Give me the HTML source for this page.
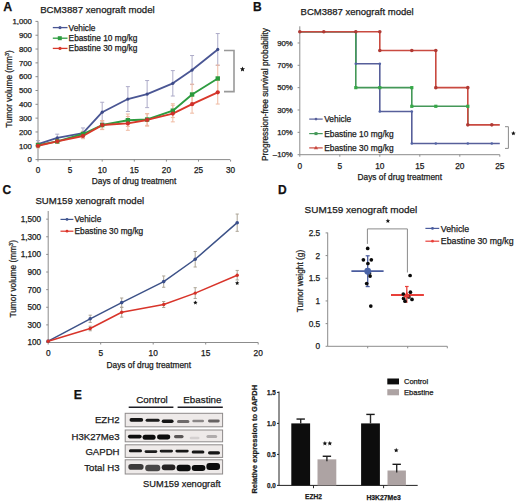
<!DOCTYPE html>
<html><head><meta charset="utf-8"><style>
html,body{margin:0;padding:0;background:#fff;}
svg{display:block;font-family:"Liberation Sans", sans-serif;}
text{stroke:#1a1a1a;stroke-width:0.25px;paint-order:stroke;}
</style></head><body>
<svg width="520" height="503" viewBox="0 0 520 503">
<defs><filter id="blur" x="-30%" y="-80%" width="160%" height="260%"><feGaussianBlur stdDeviation="0.55"/></filter></defs>
<rect width="520" height="503" fill="#fff"/>
<text x="3.30" y="10.80" font-size="12.4" text-anchor="start" font-weight="bold" fill="#111" >A</text>
<text x="40.20" y="12.90" font-size="9.65" text-anchor="start" font-weight="normal" fill="#1a1a1a" >BCM3887 xenograft model</text>
<line x1="38.00" y1="21.40" x2="38.00" y2="159.60" stroke="#8c8c8c" stroke-width="1" />
<line x1="35.50" y1="159.60" x2="38.00" y2="159.60" stroke="#8c8c8c" stroke-width="1" />
<text x="31.90" y="162.40" font-size="7.8" text-anchor="end" font-weight="normal" fill="#1a1a1a" >0</text>
<line x1="35.50" y1="145.78" x2="38.00" y2="145.78" stroke="#8c8c8c" stroke-width="1" />
<text x="31.90" y="148.58" font-size="7.8" text-anchor="end" font-weight="normal" fill="#1a1a1a" >100</text>
<line x1="35.50" y1="131.96" x2="38.00" y2="131.96" stroke="#8c8c8c" stroke-width="1" />
<text x="31.90" y="134.76" font-size="7.8" text-anchor="end" font-weight="normal" fill="#1a1a1a" >200</text>
<line x1="35.50" y1="118.14" x2="38.00" y2="118.14" stroke="#8c8c8c" stroke-width="1" />
<text x="31.90" y="120.94" font-size="7.8" text-anchor="end" font-weight="normal" fill="#1a1a1a" >300</text>
<line x1="35.50" y1="104.32" x2="38.00" y2="104.32" stroke="#8c8c8c" stroke-width="1" />
<text x="31.90" y="107.12" font-size="7.8" text-anchor="end" font-weight="normal" fill="#1a1a1a" >400</text>
<line x1="35.50" y1="90.50" x2="38.00" y2="90.50" stroke="#8c8c8c" stroke-width="1" />
<text x="31.90" y="93.30" font-size="7.8" text-anchor="end" font-weight="normal" fill="#1a1a1a" >500</text>
<line x1="35.50" y1="76.68" x2="38.00" y2="76.68" stroke="#8c8c8c" stroke-width="1" />
<text x="31.90" y="79.48" font-size="7.8" text-anchor="end" font-weight="normal" fill="#1a1a1a" >600</text>
<line x1="35.50" y1="62.86" x2="38.00" y2="62.86" stroke="#8c8c8c" stroke-width="1" />
<text x="31.90" y="65.66" font-size="7.8" text-anchor="end" font-weight="normal" fill="#1a1a1a" >700</text>
<line x1="35.50" y1="49.04" x2="38.00" y2="49.04" stroke="#8c8c8c" stroke-width="1" />
<text x="31.90" y="51.84" font-size="7.8" text-anchor="end" font-weight="normal" fill="#1a1a1a" >800</text>
<line x1="35.50" y1="35.22" x2="38.00" y2="35.22" stroke="#8c8c8c" stroke-width="1" />
<text x="31.90" y="38.02" font-size="7.8" text-anchor="end" font-weight="normal" fill="#1a1a1a" >900</text>
<line x1="35.50" y1="21.40" x2="38.00" y2="21.40" stroke="#8c8c8c" stroke-width="1" />
<text x="31.90" y="24.20" font-size="7.8" text-anchor="end" font-weight="normal" fill="#1a1a1a" >1,000</text>
<line x1="37.50" y1="159.60" x2="230.00" y2="159.60" stroke="#8c8c8c" stroke-width="1" />
<line x1="38.00" y1="159.60" x2="38.00" y2="161.60" stroke="#8c8c8c" stroke-width="1" />
<text x="38.00" y="172.50" font-size="8.2" text-anchor="middle" font-weight="normal" fill="#1a1a1a" >0</text>
<line x1="70.10" y1="159.60" x2="70.10" y2="161.60" stroke="#8c8c8c" stroke-width="1" />
<text x="70.10" y="172.50" font-size="8.2" text-anchor="middle" font-weight="normal" fill="#1a1a1a" >5</text>
<line x1="102.20" y1="159.60" x2="102.20" y2="161.60" stroke="#8c8c8c" stroke-width="1" />
<text x="102.20" y="172.50" font-size="8.2" text-anchor="middle" font-weight="normal" fill="#1a1a1a" >10</text>
<line x1="134.30" y1="159.60" x2="134.30" y2="161.60" stroke="#8c8c8c" stroke-width="1" />
<text x="134.30" y="172.50" font-size="8.2" text-anchor="middle" font-weight="normal" fill="#1a1a1a" >15</text>
<line x1="166.40" y1="159.60" x2="166.40" y2="161.60" stroke="#8c8c8c" stroke-width="1" />
<text x="166.40" y="172.50" font-size="8.2" text-anchor="middle" font-weight="normal" fill="#1a1a1a" >20</text>
<line x1="198.50" y1="159.60" x2="198.50" y2="161.60" stroke="#8c8c8c" stroke-width="1" />
<text x="198.50" y="172.50" font-size="8.2" text-anchor="middle" font-weight="normal" fill="#1a1a1a" >25</text>
<line x1="230.60" y1="159.60" x2="230.60" y2="161.60" stroke="#8c8c8c" stroke-width="1" />
<text x="230.60" y="172.50" font-size="8.2" text-anchor="middle" font-weight="normal" fill="#1a1a1a" >30</text>
<text x="134.00" y="184.20" font-size="8.3" text-anchor="middle" font-weight="normal" fill="#1a1a1a" >Days of drug treatment</text>
<text transform="translate(12.1,89) rotate(-90)" font-size="8.3" text-anchor="middle" fill="#1a1a1a">Tumor volume (mm<tspan font-size="5.5" dy="-3">3</tspan><tspan dy="3">)</tspan></text>
<line x1="38.00" y1="140.67" x2="38.00" y2="147.58" stroke="#adabc8" stroke-width="1" />
<line x1="36.00" y1="140.67" x2="40.00" y2="140.67" stroke="#adabc8" stroke-width="1" />
<line x1="36.00" y1="147.58" x2="40.00" y2="147.58" stroke="#adabc8" stroke-width="1" />
<line x1="57.26" y1="134.17" x2="57.26" y2="141.63" stroke="#adabc8" stroke-width="1" />
<line x1="55.26" y1="134.17" x2="59.26" y2="134.17" stroke="#adabc8" stroke-width="1" />
<line x1="55.26" y1="141.63" x2="59.26" y2="141.63" stroke="#adabc8" stroke-width="1" />
<line x1="82.94" y1="127.95" x2="82.94" y2="138.18" stroke="#adabc8" stroke-width="1" />
<line x1="80.94" y1="127.95" x2="84.94" y2="127.95" stroke="#adabc8" stroke-width="1" />
<line x1="80.94" y1="138.18" x2="84.94" y2="138.18" stroke="#adabc8" stroke-width="1" />
<line x1="102.20" y1="102.25" x2="102.20" y2="122.15" stroke="#adabc8" stroke-width="1" />
<line x1="100.20" y1="102.25" x2="104.20" y2="102.25" stroke="#adabc8" stroke-width="1" />
<line x1="100.20" y1="122.15" x2="104.20" y2="122.15" stroke="#adabc8" stroke-width="1" />
<line x1="127.88" y1="86.63" x2="127.88" y2="111.51" stroke="#adabc8" stroke-width="1" />
<line x1="125.88" y1="86.63" x2="129.88" y2="86.63" stroke="#adabc8" stroke-width="1" />
<line x1="125.88" y1="111.51" x2="129.88" y2="111.51" stroke="#adabc8" stroke-width="1" />
<line x1="147.14" y1="80.55" x2="147.14" y2="107.64" stroke="#adabc8" stroke-width="1" />
<line x1="145.14" y1="80.55" x2="149.14" y2="80.55" stroke="#adabc8" stroke-width="1" />
<line x1="145.14" y1="107.64" x2="149.14" y2="107.64" stroke="#adabc8" stroke-width="1" />
<line x1="172.82" y1="70.60" x2="172.82" y2="96.03" stroke="#adabc8" stroke-width="1" />
<line x1="170.82" y1="70.60" x2="174.82" y2="70.60" stroke="#adabc8" stroke-width="1" />
<line x1="170.82" y1="96.03" x2="174.82" y2="96.03" stroke="#adabc8" stroke-width="1" />
<line x1="192.08" y1="55.54" x2="192.08" y2="84.56" stroke="#adabc8" stroke-width="1" />
<line x1="190.08" y1="55.54" x2="194.08" y2="55.54" stroke="#adabc8" stroke-width="1" />
<line x1="190.08" y1="84.56" x2="194.08" y2="84.56" stroke="#adabc8" stroke-width="1" />
<line x1="217.76" y1="33.56" x2="217.76" y2="65.35" stroke="#adabc8" stroke-width="1" />
<line x1="215.76" y1="33.56" x2="219.76" y2="33.56" stroke="#adabc8" stroke-width="1" />
<line x1="215.76" y1="65.35" x2="219.76" y2="65.35" stroke="#adabc8" stroke-width="1" />
<line x1="38.00" y1="143.02" x2="38.00" y2="147.16" stroke="#efbaa2" stroke-width="1" />
<line x1="36.00" y1="143.02" x2="40.00" y2="143.02" stroke="#efbaa2" stroke-width="1" />
<line x1="36.00" y1="147.16" x2="40.00" y2="147.16" stroke="#efbaa2" stroke-width="1" />
<line x1="57.26" y1="139.28" x2="57.26" y2="143.43" stroke="#efbaa2" stroke-width="1" />
<line x1="55.26" y1="139.28" x2="59.26" y2="139.28" stroke="#efbaa2" stroke-width="1" />
<line x1="55.26" y1="143.43" x2="59.26" y2="143.43" stroke="#efbaa2" stroke-width="1" />
<line x1="82.94" y1="131.27" x2="82.94" y2="136.80" stroke="#efbaa2" stroke-width="1" />
<line x1="80.94" y1="131.27" x2="84.94" y2="131.27" stroke="#efbaa2" stroke-width="1" />
<line x1="80.94" y1="136.80" x2="84.94" y2="136.80" stroke="#efbaa2" stroke-width="1" />
<line x1="102.20" y1="120.90" x2="102.20" y2="129.20" stroke="#efbaa2" stroke-width="1" />
<line x1="100.20" y1="120.90" x2="104.20" y2="120.90" stroke="#efbaa2" stroke-width="1" />
<line x1="100.20" y1="129.20" x2="104.20" y2="129.20" stroke="#efbaa2" stroke-width="1" />
<line x1="127.88" y1="113.99" x2="127.88" y2="126.43" stroke="#efbaa2" stroke-width="1" />
<line x1="125.88" y1="113.99" x2="129.88" y2="113.99" stroke="#efbaa2" stroke-width="1" />
<line x1="125.88" y1="126.43" x2="129.88" y2="126.43" stroke="#efbaa2" stroke-width="1" />
<line x1="147.14" y1="113.72" x2="147.14" y2="125.33" stroke="#efbaa2" stroke-width="1" />
<line x1="145.14" y1="113.72" x2="149.14" y2="113.72" stroke="#efbaa2" stroke-width="1" />
<line x1="145.14" y1="125.33" x2="149.14" y2="125.33" stroke="#efbaa2" stroke-width="1" />
<line x1="172.82" y1="103.77" x2="172.82" y2="117.59" stroke="#efbaa2" stroke-width="1" />
<line x1="170.82" y1="103.77" x2="174.82" y2="103.77" stroke="#efbaa2" stroke-width="1" />
<line x1="170.82" y1="117.59" x2="174.82" y2="117.59" stroke="#efbaa2" stroke-width="1" />
<line x1="192.08" y1="84.14" x2="192.08" y2="104.87" stroke="#efbaa2" stroke-width="1" />
<line x1="190.08" y1="84.14" x2="194.08" y2="84.14" stroke="#efbaa2" stroke-width="1" />
<line x1="190.08" y1="104.87" x2="194.08" y2="104.87" stroke="#efbaa2" stroke-width="1" />
<line x1="217.76" y1="65.07" x2="217.76" y2="91.88" stroke="#efbaa2" stroke-width="1" />
<line x1="215.76" y1="65.07" x2="219.76" y2="65.07" stroke="#efbaa2" stroke-width="1" />
<line x1="215.76" y1="91.88" x2="219.76" y2="91.88" stroke="#efbaa2" stroke-width="1" />
<line x1="38.00" y1="143.71" x2="38.00" y2="147.85" stroke="#efbaa2" stroke-width="1" />
<line x1="36.00" y1="143.71" x2="40.00" y2="143.71" stroke="#efbaa2" stroke-width="1" />
<line x1="36.00" y1="147.85" x2="40.00" y2="147.85" stroke="#efbaa2" stroke-width="1" />
<line x1="57.26" y1="139.28" x2="57.26" y2="143.43" stroke="#efbaa2" stroke-width="1" />
<line x1="55.26" y1="139.28" x2="59.26" y2="139.28" stroke="#efbaa2" stroke-width="1" />
<line x1="55.26" y1="143.43" x2="59.26" y2="143.43" stroke="#efbaa2" stroke-width="1" />
<line x1="82.94" y1="133.20" x2="82.94" y2="138.73" stroke="#efbaa2" stroke-width="1" />
<line x1="80.94" y1="133.20" x2="84.94" y2="133.20" stroke="#efbaa2" stroke-width="1" />
<line x1="80.94" y1="138.73" x2="84.94" y2="138.73" stroke="#efbaa2" stroke-width="1" />
<line x1="102.20" y1="120.49" x2="102.20" y2="129.61" stroke="#efbaa2" stroke-width="1" />
<line x1="100.20" y1="120.49" x2="104.20" y2="120.49" stroke="#efbaa2" stroke-width="1" />
<line x1="100.20" y1="129.61" x2="104.20" y2="129.61" stroke="#efbaa2" stroke-width="1" />
<line x1="127.88" y1="116.48" x2="127.88" y2="130.30" stroke="#efbaa2" stroke-width="1" />
<line x1="125.88" y1="116.48" x2="129.88" y2="116.48" stroke="#efbaa2" stroke-width="1" />
<line x1="125.88" y1="130.30" x2="129.88" y2="130.30" stroke="#efbaa2" stroke-width="1" />
<line x1="147.14" y1="113.72" x2="147.14" y2="126.16" stroke="#efbaa2" stroke-width="1" />
<line x1="145.14" y1="113.72" x2="149.14" y2="113.72" stroke="#efbaa2" stroke-width="1" />
<line x1="145.14" y1="126.16" x2="149.14" y2="126.16" stroke="#efbaa2" stroke-width="1" />
<line x1="172.82" y1="105.29" x2="172.82" y2="121.87" stroke="#efbaa2" stroke-width="1" />
<line x1="170.82" y1="105.29" x2="174.82" y2="105.29" stroke="#efbaa2" stroke-width="1" />
<line x1="170.82" y1="121.87" x2="174.82" y2="121.87" stroke="#efbaa2" stroke-width="1" />
<line x1="192.08" y1="95.20" x2="192.08" y2="113.16" stroke="#efbaa2" stroke-width="1" />
<line x1="190.08" y1="95.20" x2="194.08" y2="95.20" stroke="#efbaa2" stroke-width="1" />
<line x1="190.08" y1="113.16" x2="194.08" y2="113.16" stroke="#efbaa2" stroke-width="1" />
<line x1="217.76" y1="80.55" x2="217.76" y2="104.04" stroke="#efbaa2" stroke-width="1" />
<line x1="215.76" y1="80.55" x2="219.76" y2="80.55" stroke="#efbaa2" stroke-width="1" />
<line x1="215.76" y1="104.04" x2="219.76" y2="104.04" stroke="#efbaa2" stroke-width="1" />
<polyline points="38.00,144.12 57.26,137.90 82.94,133.07 102.20,112.20 127.88,99.07 147.14,94.09 172.82,83.31 192.08,70.05 217.76,49.45" fill="none" stroke="#4a5694" stroke-width="1.8" stroke-linejoin="round" />
<polyline points="38.00,145.09 57.26,141.36 82.94,134.03 102.20,125.05 127.88,120.21 147.14,119.52 172.82,110.68 192.08,94.51 217.76,78.48" fill="none" stroke="#2e9c40" stroke-width="1.9" stroke-linejoin="round" />
<polyline points="38.00,145.78 57.26,141.36 82.94,135.97 102.20,125.05 127.88,123.39 147.14,119.94 172.82,113.58 192.08,104.18 217.76,92.30" fill="none" stroke="#d8382a" stroke-width="1.9" stroke-linejoin="round" />
<circle cx="38.00" cy="144.12" r="1.6" fill="#3c4a88"/>
<circle cx="57.26" cy="137.90" r="1.6" fill="#3c4a88"/>
<circle cx="82.94" cy="133.07" r="1.6" fill="#3c4a88"/>
<circle cx="102.20" cy="112.20" r="1.6" fill="#3c4a88"/>
<circle cx="127.88" cy="99.07" r="1.6" fill="#3c4a88"/>
<circle cx="147.14" cy="94.09" r="1.6" fill="#3c4a88"/>
<circle cx="172.82" cy="83.31" r="1.6" fill="#3c4a88"/>
<circle cx="192.08" cy="70.05" r="1.6" fill="#3c4a88"/>
<circle cx="217.76" cy="49.45" r="1.6" fill="#3c4a88"/>
<rect x="35.80" y="142.89" width="4.4" height="4.4" fill="#2a9a3c"/>
<rect x="55.06" y="139.16" width="4.4" height="4.4" fill="#2a9a3c"/>
<rect x="80.74" y="131.83" width="4.4" height="4.4" fill="#2a9a3c"/>
<rect x="100.00" y="122.85" width="4.4" height="4.4" fill="#2a9a3c"/>
<rect x="125.68" y="118.01" width="4.4" height="4.4" fill="#2a9a3c"/>
<rect x="144.94" y="117.32" width="4.4" height="4.4" fill="#2a9a3c"/>
<rect x="170.62" y="108.48" width="4.4" height="4.4" fill="#2a9a3c"/>
<rect x="189.88" y="92.31" width="4.4" height="4.4" fill="#2a9a3c"/>
<rect x="215.56" y="76.28" width="4.4" height="4.4" fill="#2a9a3c"/>
<circle cx="38.00" cy="145.78" r="2.1" fill="#d0302a"/>
<circle cx="57.26" cy="141.36" r="2.1" fill="#d0302a"/>
<circle cx="82.94" cy="135.97" r="2.1" fill="#d0302a"/>
<circle cx="102.20" cy="125.05" r="2.1" fill="#d0302a"/>
<circle cx="127.88" cy="123.39" r="2.1" fill="#d0302a"/>
<circle cx="147.14" cy="119.94" r="2.1" fill="#d0302a"/>
<circle cx="172.82" cy="113.58" r="2.1" fill="#d0302a"/>
<circle cx="192.08" cy="104.18" r="2.1" fill="#d0302a"/>
<circle cx="217.76" cy="92.30" r="2.1" fill="#d0302a"/>
<line x1="52.80" y1="27.60" x2="67.50" y2="27.60" stroke="#4a5694" stroke-width="1.3" />
<circle cx="60" cy="27.60" r="1.6" fill="#4a5694"/>
<text x="68.60" y="30.50" font-size="8.3" text-anchor="start" font-weight="normal" fill="#1a1a1a" >Vehicle</text>
<line x1="52.80" y1="38.20" x2="67.50" y2="38.20" stroke="#2e9c40" stroke-width="1.3" />
<rect x="57.8" y="36.20" width="4" height="4" fill="#2e9c40"/>
<text x="68.60" y="41.10" font-size="8.3" text-anchor="start" font-weight="normal" fill="#1a1a1a" >Ebastine 10 mg/kg</text>
<line x1="52.80" y1="48.40" x2="67.50" y2="48.40" stroke="#d8382a" stroke-width="1.3" />
<circle cx="60" cy="48.40" r="1.6" fill="#d8382a"/>
<text x="68.60" y="51.30" font-size="8.3" text-anchor="start" font-weight="normal" fill="#1a1a1a" >Ebastine 30 mg/kg</text>
<polyline points="224,50.5 234,50.5 234,91.6 224,91.6" fill="none" stroke="#999" stroke-width="1.6"/>
<polygon points="242.50,66.50 243.21,68.22 245.07,68.37 243.66,69.58 244.09,71.38 242.50,70.42 240.91,71.38 241.34,69.58 239.93,68.37 241.79,68.22" fill="#111"/>
<text x="253.00" y="10.80" font-size="12" text-anchor="start" font-weight="bold" fill="#111" >B</text>
<text x="300.60" y="15.30" font-size="9.5" text-anchor="start" font-weight="normal" fill="#1a1a1a" >BCM3887 xenograft model</text>
<line x1="299.80" y1="26.30" x2="299.80" y2="154.70" stroke="#8c8c8c" stroke-width="1" />
<line x1="297.60" y1="154.67" x2="299.80" y2="154.67" stroke="#8c8c8c" stroke-width="1" />
<text x="292.80" y="157.47" font-size="7.8" text-anchor="end" font-weight="normal" fill="#1a1a1a" >&#8211;10%</text>
<line x1="297.60" y1="132.33" x2="299.80" y2="132.33" stroke="#8c8c8c" stroke-width="1" />
<text x="292.80" y="135.13" font-size="7.8" text-anchor="end" font-weight="normal" fill="#1a1a1a" >10%</text>
<line x1="297.60" y1="109.99" x2="299.80" y2="109.99" stroke="#8c8c8c" stroke-width="1" />
<text x="292.80" y="112.79" font-size="7.8" text-anchor="end" font-weight="normal" fill="#1a1a1a" >30%</text>
<line x1="297.60" y1="87.65" x2="299.80" y2="87.65" stroke="#8c8c8c" stroke-width="1" />
<text x="292.80" y="90.45" font-size="7.8" text-anchor="end" font-weight="normal" fill="#1a1a1a" >50%</text>
<line x1="297.60" y1="65.31" x2="299.80" y2="65.31" stroke="#8c8c8c" stroke-width="1" />
<text x="292.80" y="68.11" font-size="7.8" text-anchor="end" font-weight="normal" fill="#1a1a1a" >70%</text>
<line x1="297.60" y1="42.97" x2="299.80" y2="42.97" stroke="#8c8c8c" stroke-width="1" />
<text x="292.80" y="45.77" font-size="7.8" text-anchor="end" font-weight="normal" fill="#1a1a1a" >90%</text>
<line x1="299.80" y1="154.70" x2="499.80" y2="154.70" stroke="#8c8c8c" stroke-width="1" />
<line x1="299.80" y1="154.70" x2="299.80" y2="156.70" stroke="#8c8c8c" stroke-width="1" />
<text x="299.80" y="168.60" font-size="8.3" text-anchor="middle" font-weight="normal" fill="#1a1a1a" >0</text>
<line x1="339.80" y1="154.70" x2="339.80" y2="156.70" stroke="#8c8c8c" stroke-width="1" />
<text x="339.80" y="168.60" font-size="8.3" text-anchor="middle" font-weight="normal" fill="#1a1a1a" >5</text>
<line x1="379.80" y1="154.70" x2="379.80" y2="156.70" stroke="#8c8c8c" stroke-width="1" />
<text x="379.80" y="168.60" font-size="8.3" text-anchor="middle" font-weight="normal" fill="#1a1a1a" >10</text>
<line x1="419.80" y1="154.70" x2="419.80" y2="156.70" stroke="#8c8c8c" stroke-width="1" />
<text x="419.80" y="168.60" font-size="8.3" text-anchor="middle" font-weight="normal" fill="#1a1a1a" >15</text>
<line x1="459.80" y1="154.70" x2="459.80" y2="156.70" stroke="#8c8c8c" stroke-width="1" />
<text x="459.80" y="168.60" font-size="8.3" text-anchor="middle" font-weight="normal" fill="#1a1a1a" >20</text>
<line x1="499.80" y1="154.70" x2="499.80" y2="156.70" stroke="#8c8c8c" stroke-width="1" />
<text x="499.80" y="168.60" font-size="8.3" text-anchor="middle" font-weight="normal" fill="#1a1a1a" >25</text>
<text x="399.80" y="179.60" font-size="8.3" text-anchor="middle" font-weight="normal" fill="#1a1a1a" >Days of drug treatment</text>
<text transform="translate(267.6,94.5) rotate(-90)" font-size="8.4" text-anchor="middle" fill="#1a1a1a">Progression-free survival probability</text>
<polyline points="299.80,31.80 355.80,31.80 355.80,63.75 379.80,63.75 379.80,111.55 411.80,111.55 411.80,143.50 499.80,143.50 499.80,143.50" fill="none" stroke="#575f9a" stroke-width="1.6" stroke-linejoin="round" />
<polyline points="299.80,31.80 355.80,31.80 355.80,87.65 411.80,87.65 411.80,106.30 467.80,106.30 467.80,124.85" fill="none" stroke="#449858" stroke-width="1.6" stroke-linejoin="round" />
<polyline points="299.80,31.80 379.80,31.80 379.80,50.45 435.80,50.45 435.80,87.65 467.80,87.65 467.80,124.85 499.80,124.85 499.80,124.85" fill="none" stroke="#c94a40" stroke-width="1.6" stroke-linejoin="round" />
<circle cx="355.80" cy="31.80" r="1.3" fill="#5262a4"/>
<circle cx="355.80" cy="63.75" r="1.3" fill="#5262a4"/>
<circle cx="379.80" cy="63.75" r="1.3" fill="#5262a4"/>
<circle cx="379.80" cy="111.55" r="1.3" fill="#5262a4"/>
<circle cx="411.80" cy="111.55" r="1.3" fill="#5262a4"/>
<circle cx="411.80" cy="143.50" r="1.3" fill="#5262a4"/>
<circle cx="435.80" cy="143.50" r="1.3" fill="#5262a4"/>
<circle cx="467.80" cy="143.50" r="1.3" fill="#5262a4"/>
<circle cx="491.80" cy="143.50" r="1.3" fill="#5262a4"/>
<rect x="354.20" y="86.05" width="3.2" height="3.2" fill="#36a848"/>
<rect x="378.20" y="86.05" width="3.2" height="3.2" fill="#36a848"/>
<rect x="410.20" y="86.05" width="3.2" height="3.2" fill="#36a848"/>
<rect x="410.20" y="104.70" width="3.2" height="3.2" fill="#36a848"/>
<rect x="434.20" y="104.70" width="3.2" height="3.2" fill="#36a848"/>
<rect x="466.20" y="104.70" width="3.2" height="3.2" fill="#36a848"/>
<circle cx="299.80" cy="31.80" r="1.8" fill="#b03a34"/>
<circle cx="323.80" cy="31.80" r="1.8" fill="#b03a34"/>
<circle cx="355.80" cy="31.80" r="1.8" fill="#b03a34"/>
<circle cx="379.80" cy="31.80" r="1.8" fill="#b03a34"/>
<circle cx="379.80" cy="50.45" r="1.8" fill="#b03a34"/>
<circle cx="411.80" cy="50.45" r="1.8" fill="#b03a34"/>
<circle cx="435.80" cy="50.45" r="1.8" fill="#b03a34"/>
<circle cx="435.80" cy="87.65" r="1.8" fill="#b03a34"/>
<circle cx="467.80" cy="87.65" r="1.8" fill="#b03a34"/>
<circle cx="467.80" cy="124.85" r="1.8" fill="#b03a34"/>
<circle cx="491.80" cy="124.85" r="1.8" fill="#b03a34"/>
<line x1="309.20" y1="119.10" x2="322.70" y2="119.10" stroke="#575f9a" stroke-width="1.2" />
<circle cx="316" cy="119.10" r="1.3" fill="#575f9a"/>
<text x="324.20" y="122.10" font-size="8.4" text-anchor="start" font-weight="normal" fill="#1a1a1a" >Vehicle</text>
<line x1="309.20" y1="133.60" x2="322.70" y2="133.60" stroke="#449858" stroke-width="1.2" />
<rect x="314.5" y="132.10" width="3" height="3" fill="#449858"/>
<text x="324.20" y="136.60" font-size="8.4" text-anchor="start" font-weight="normal" fill="#1a1a1a" >Ebastine 10 mg/kg</text>
<line x1="309.20" y1="147.90" x2="322.70" y2="147.90" stroke="#c94a40" stroke-width="1.2" />
<path d="M316,145.70 L318.2,149.30 L313.8,149.30 Z" fill="#c94a40"/>
<text x="324.20" y="150.90" font-size="8.4" text-anchor="start" font-weight="normal" fill="#1a1a1a" >Ebastine 30 mg/kg</text>
<polyline points="505,126.7 508.4,126.7 508.4,148.4 505,148.4" fill="none" stroke="#8a8a8a" stroke-width="1"/>
<polygon points="513.40,131.00 514.03,132.53 515.68,132.66 514.43,133.73 514.81,135.34 513.40,134.48 511.99,135.34 512.37,133.73 511.12,132.66 512.77,132.53" fill="#111"/>
<text x="2.60" y="194.40" font-size="12" text-anchor="start" font-weight="bold" fill="#111" >C</text>
<text x="35.40" y="204.00" font-size="9.6" text-anchor="start" font-weight="normal" fill="#1a1a1a" >SUM159 xenograft model</text>
<line x1="48.20" y1="211.00" x2="48.20" y2="342.50" stroke="#8c8c8c" stroke-width="1" />
<line x1="46.20" y1="342.50" x2="48.20" y2="342.50" stroke="#8c8c8c" stroke-width="1" />
<text x="41.20" y="345.40" font-size="8.2" text-anchor="end" font-weight="normal" fill="#1a1a1a" >100</text>
<line x1="46.20" y1="324.88" x2="48.20" y2="324.88" stroke="#8c8c8c" stroke-width="1" />
<text x="41.20" y="327.78" font-size="8.2" text-anchor="end" font-weight="normal" fill="#1a1a1a" >300</text>
<line x1="46.20" y1="307.26" x2="48.20" y2="307.26" stroke="#8c8c8c" stroke-width="1" />
<text x="41.20" y="310.16" font-size="8.2" text-anchor="end" font-weight="normal" fill="#1a1a1a" >500</text>
<line x1="46.20" y1="289.64" x2="48.20" y2="289.64" stroke="#8c8c8c" stroke-width="1" />
<text x="41.20" y="292.54" font-size="8.2" text-anchor="end" font-weight="normal" fill="#1a1a1a" >700</text>
<line x1="46.20" y1="272.02" x2="48.20" y2="272.02" stroke="#8c8c8c" stroke-width="1" />
<text x="41.20" y="274.92" font-size="8.2" text-anchor="end" font-weight="normal" fill="#1a1a1a" >900</text>
<line x1="46.20" y1="254.40" x2="48.20" y2="254.40" stroke="#8c8c8c" stroke-width="1" />
<text x="41.20" y="257.30" font-size="8.2" text-anchor="end" font-weight="normal" fill="#1a1a1a" >1,100</text>
<line x1="46.20" y1="236.78" x2="48.20" y2="236.78" stroke="#8c8c8c" stroke-width="1" />
<text x="41.20" y="239.68" font-size="8.2" text-anchor="end" font-weight="normal" fill="#1a1a1a" >1,300</text>
<line x1="46.20" y1="219.16" x2="48.20" y2="219.16" stroke="#8c8c8c" stroke-width="1" />
<text x="41.20" y="222.06" font-size="8.2" text-anchor="end" font-weight="normal" fill="#1a1a1a" >1,500</text>
<line x1="48.20" y1="342.50" x2="258.20" y2="342.50" stroke="#8c8c8c" stroke-width="1" />
<line x1="48.20" y1="342.50" x2="48.20" y2="344.50" stroke="#8c8c8c" stroke-width="1" />
<text x="48.20" y="356.20" font-size="8.3" text-anchor="middle" font-weight="normal" fill="#1a1a1a" >0</text>
<line x1="100.70" y1="342.50" x2="100.70" y2="344.50" stroke="#8c8c8c" stroke-width="1" />
<text x="100.70" y="356.20" font-size="8.3" text-anchor="middle" font-weight="normal" fill="#1a1a1a" >5</text>
<line x1="153.20" y1="342.50" x2="153.20" y2="344.50" stroke="#8c8c8c" stroke-width="1" />
<text x="153.20" y="356.20" font-size="8.3" text-anchor="middle" font-weight="normal" fill="#1a1a1a" >10</text>
<line x1="205.70" y1="342.50" x2="205.70" y2="344.50" stroke="#8c8c8c" stroke-width="1" />
<text x="205.70" y="356.20" font-size="8.3" text-anchor="middle" font-weight="normal" fill="#1a1a1a" >15</text>
<line x1="258.20" y1="342.50" x2="258.20" y2="344.50" stroke="#8c8c8c" stroke-width="1" />
<text x="258.20" y="356.20" font-size="8.3" text-anchor="middle" font-weight="normal" fill="#1a1a1a" >20</text>
<text x="148.80" y="367.90" font-size="8.3" text-anchor="middle" font-weight="normal" fill="#1a1a1a" >Days of drug treatment</text>
<text transform="translate(15.9,278.8) rotate(-90)" font-size="8.3" text-anchor="middle" fill="#1a1a1a">Tumor volume (mm<tspan font-size="5.5" dy="-3">3</tspan><tspan dy="3">)</tspan></text>
<line x1="48.20" y1="340.30" x2="48.20" y2="342.06" stroke="#aca496" stroke-width="1" />
<line x1="46.60" y1="340.30" x2="49.80" y2="340.30" stroke="#aca496" stroke-width="1" />
<line x1="46.60" y1="342.06" x2="49.80" y2="342.06" stroke="#aca496" stroke-width="1" />
<line x1="90.20" y1="315.19" x2="90.20" y2="322.41" stroke="#aca496" stroke-width="1" />
<line x1="88.60" y1="315.19" x2="91.80" y2="315.19" stroke="#aca496" stroke-width="1" />
<line x1="88.60" y1="322.41" x2="91.80" y2="322.41" stroke="#aca496" stroke-width="1" />
<line x1="121.70" y1="298.01" x2="121.70" y2="307.17" stroke="#aca496" stroke-width="1" />
<line x1="120.10" y1="298.01" x2="123.30" y2="298.01" stroke="#aca496" stroke-width="1" />
<line x1="120.10" y1="307.17" x2="123.30" y2="307.17" stroke="#aca496" stroke-width="1" />
<line x1="163.70" y1="275.98" x2="163.70" y2="287.26" stroke="#aca496" stroke-width="1" />
<line x1="162.10" y1="275.98" x2="165.30" y2="275.98" stroke="#aca496" stroke-width="1" />
<line x1="162.10" y1="287.26" x2="165.30" y2="287.26" stroke="#aca496" stroke-width="1" />
<line x1="195.20" y1="251.49" x2="195.20" y2="267.00" stroke="#aca496" stroke-width="1" />
<line x1="193.60" y1="251.49" x2="196.80" y2="251.49" stroke="#aca496" stroke-width="1" />
<line x1="193.60" y1="267.00" x2="196.80" y2="267.00" stroke="#aca496" stroke-width="1" />
<line x1="237.20" y1="214.05" x2="237.20" y2="231.32" stroke="#aca496" stroke-width="1" />
<line x1="235.60" y1="214.05" x2="238.80" y2="214.05" stroke="#aca496" stroke-width="1" />
<line x1="235.60" y1="231.32" x2="238.80" y2="231.32" stroke="#aca496" stroke-width="1" />
<line x1="48.20" y1="340.30" x2="48.20" y2="342.06" stroke="#aca496" stroke-width="1" />
<line x1="46.60" y1="340.30" x2="49.80" y2="340.30" stroke="#aca496" stroke-width="1" />
<line x1="46.60" y1="342.06" x2="49.80" y2="342.06" stroke="#aca496" stroke-width="1" />
<line x1="90.20" y1="326.20" x2="90.20" y2="330.78" stroke="#aca496" stroke-width="1" />
<line x1="88.60" y1="326.20" x2="91.80" y2="326.20" stroke="#aca496" stroke-width="1" />
<line x1="88.60" y1="330.78" x2="91.80" y2="330.78" stroke="#aca496" stroke-width="1" />
<line x1="121.70" y1="307.44" x2="121.70" y2="317.13" stroke="#aca496" stroke-width="1" />
<line x1="120.10" y1="307.44" x2="123.30" y2="307.44" stroke="#aca496" stroke-width="1" />
<line x1="120.10" y1="317.13" x2="123.30" y2="317.13" stroke="#aca496" stroke-width="1" />
<line x1="163.70" y1="301.53" x2="163.70" y2="307.52" stroke="#aca496" stroke-width="1" />
<line x1="162.10" y1="301.53" x2="165.30" y2="301.53" stroke="#aca496" stroke-width="1" />
<line x1="162.10" y1="307.52" x2="165.30" y2="307.52" stroke="#aca496" stroke-width="1" />
<line x1="195.20" y1="287.70" x2="195.20" y2="298.45" stroke="#aca496" stroke-width="1" />
<line x1="193.60" y1="287.70" x2="196.80" y2="287.70" stroke="#aca496" stroke-width="1" />
<line x1="193.60" y1="298.45" x2="196.80" y2="298.45" stroke="#aca496" stroke-width="1" />
<line x1="237.20" y1="270.43" x2="237.20" y2="279.95" stroke="#aca496" stroke-width="1" />
<line x1="235.60" y1="270.43" x2="238.80" y2="270.43" stroke="#aca496" stroke-width="1" />
<line x1="235.60" y1="279.95" x2="238.80" y2="279.95" stroke="#aca496" stroke-width="1" />
<polyline points="48.20,341.18 90.20,318.80 121.70,302.59 163.70,281.62 195.20,259.25 237.20,222.68" fill="none" stroke="#3d5288" stroke-width="1.5" stroke-linejoin="round" />
<polyline points="48.20,341.18 90.20,328.49 121.70,312.28 163.70,304.53 195.20,293.08 237.20,275.19" fill="none" stroke="#d8342a" stroke-width="1.5" stroke-linejoin="round" />
<circle cx="48.20" cy="341.18" r="1.8" fill="#3a4f8c"/>
<circle cx="90.20" cy="318.80" r="1.8" fill="#3a4f8c"/>
<circle cx="121.70" cy="302.59" r="1.8" fill="#3a4f8c"/>
<circle cx="163.70" cy="281.62" r="1.8" fill="#3a4f8c"/>
<circle cx="195.20" cy="259.25" r="1.8" fill="#3a4f8c"/>
<circle cx="237.20" cy="222.68" r="1.8" fill="#3a4f8c"/>
<circle cx="48.20" cy="341.18" r="1.7" fill="#d43228"/>
<circle cx="90.20" cy="328.49" r="1.7" fill="#d43228"/>
<circle cx="121.70" cy="312.28" r="1.7" fill="#d43228"/>
<circle cx="163.70" cy="304.53" r="1.7" fill="#d43228"/>
<circle cx="195.20" cy="293.08" r="1.7" fill="#d43228"/>
<circle cx="237.20" cy="275.19" r="1.7" fill="#d43228"/>
<line x1="60.50" y1="219.40" x2="73.40" y2="219.40" stroke="#3f5590" stroke-width="1.2" />
<circle cx="67" cy="219.40" r="1.4" fill="#3f5590"/>
<text x="74.50" y="222.40" font-size="8.3" text-anchor="start" font-weight="normal" fill="#1a1a1a" >Vehicle</text>
<line x1="60.50" y1="231.20" x2="73.40" y2="231.20" stroke="#dc3428" stroke-width="1.2" />
<circle cx="67" cy="231.20" r="1.4" fill="#dc3428"/>
<text x="74.50" y="234.20" font-size="8.3" text-anchor="start" font-weight="normal" fill="#1a1a1a" >Ebastine 30 mg/kg</text>
<polygon points="195.40,300.40 196.01,301.86 197.59,301.99 196.38,303.02 196.75,304.56 195.40,303.74 194.05,304.56 194.42,303.02 193.21,301.99 194.79,301.86" fill="#111"/>
<polygon points="237.20,280.80 237.81,282.26 239.39,282.39 238.18,283.42 238.55,284.96 237.20,284.14 235.85,284.96 236.22,283.42 235.01,282.39 236.59,282.26" fill="#111"/>
<text x="278.00" y="194.40" font-size="12" text-anchor="start" font-weight="bold" fill="#111" >D</text>
<text x="304.60" y="213.40" font-size="9.95" text-anchor="start" font-weight="normal" fill="#1a1a1a" >SUM159 xenograft model</text>
<line x1="327.70" y1="232.60" x2="327.70" y2="346.30" stroke="#8c8c8c" stroke-width="1" />
<line x1="325.60" y1="346.30" x2="327.70" y2="346.30" stroke="#8c8c8c" stroke-width="1" />
<text x="320.20" y="349.30" font-size="8.3" text-anchor="end" font-weight="normal" fill="#1a1a1a" >0</text>
<line x1="325.60" y1="323.62" x2="327.70" y2="323.62" stroke="#8c8c8c" stroke-width="1" />
<text x="320.20" y="326.62" font-size="8.3" text-anchor="end" font-weight="normal" fill="#1a1a1a" >0.5</text>
<line x1="325.60" y1="300.94" x2="327.70" y2="300.94" stroke="#8c8c8c" stroke-width="1" />
<text x="320.20" y="303.94" font-size="8.3" text-anchor="end" font-weight="normal" fill="#1a1a1a" >1</text>
<line x1="325.60" y1="278.26" x2="327.70" y2="278.26" stroke="#8c8c8c" stroke-width="1" />
<text x="320.20" y="281.26" font-size="8.3" text-anchor="end" font-weight="normal" fill="#1a1a1a" >1.5</text>
<line x1="325.60" y1="255.58" x2="327.70" y2="255.58" stroke="#8c8c8c" stroke-width="1" />
<text x="320.20" y="258.58" font-size="8.3" text-anchor="end" font-weight="normal" fill="#1a1a1a" >2</text>
<line x1="325.60" y1="232.90" x2="327.70" y2="232.90" stroke="#8c8c8c" stroke-width="1" />
<text x="320.20" y="235.90" font-size="8.3" text-anchor="end" font-weight="normal" fill="#1a1a1a" >2.5</text>
<line x1="327.70" y1="346.30" x2="447.30" y2="346.30" stroke="#8c8c8c" stroke-width="1" />
<line x1="367.70" y1="346.30" x2="367.70" y2="348.30" stroke="#8c8c8c" stroke-width="1" />
<line x1="407.70" y1="346.30" x2="407.70" y2="348.30" stroke="#8c8c8c" stroke-width="1" />
<line x1="447.30" y1="346.30" x2="447.30" y2="348.30" stroke="#8c8c8c" stroke-width="1" />
<text transform="translate(302.6,281) rotate(-90)" font-size="8.3" text-anchor="middle" fill="#1a1a1a">Tumor weight (g)</text>
<polyline points="367.4,243.9 367.4,228.9 407.4,228.9 407.4,272.5" fill="none" stroke="#8a8a8a" stroke-width="1"/>
<polygon points="387.90,218.60 388.53,220.13 390.18,220.26 388.93,221.33 389.31,222.94 387.90,222.08 386.49,222.94 386.87,221.33 385.62,220.26 387.27,220.13" fill="#111"/>
<line x1="351.40" y1="271.20" x2="383.60" y2="271.20" stroke="#4a5c9e" stroke-width="1.7" />
<line x1="367.70" y1="255.80" x2="367.70" y2="286.60" stroke="#4a5c9e" stroke-width="1.3" />
<line x1="365.70" y1="255.80" x2="369.70" y2="255.80" stroke="#4a5c9e" stroke-width="1.2" />
<line x1="365.70" y1="286.60" x2="369.70" y2="286.60" stroke="#4a5c9e" stroke-width="1.2" />
<circle cx="367.7" cy="248.4" r="1.85" fill="#0a0a0a"/>
<circle cx="363.4" cy="259.8" r="1.85" fill="#0a0a0a"/>
<circle cx="371.3" cy="259.8" r="1.85" fill="#0a0a0a"/>
<circle cx="367.9" cy="263.5" r="1.85" fill="#0a0a0a"/>
<circle cx="370.1" cy="276.1" r="1.85" fill="#0a0a0a"/>
<circle cx="366.7" cy="283.6" r="1.85" fill="#0a0a0a"/>
<circle cx="370.8" cy="306.1" r="1.85" fill="#0a0a0a"/>
<circle cx="369.5" cy="273" r="1.85" fill="#0a0a0a"/>
<circle cx="367.7" cy="271.2" r="3.4" fill="#4a64a8"/>
<line x1="391.00" y1="295.00" x2="423.90" y2="295.00" stroke="#e8403a" stroke-width="1.9" />
<line x1="406.80" y1="286.50" x2="406.80" y2="303.00" stroke="#e8403a" stroke-width="1.3" />
<line x1="405.00" y1="286.50" x2="408.60" y2="286.50" stroke="#e8403a" stroke-width="1.2" />
<circle cx="410.1" cy="275.5" r="1.85" fill="#0a0a0a"/>
<circle cx="410.4" cy="292.2" r="1.85" fill="#0a0a0a"/>
<circle cx="403.6" cy="298.4" r="1.85" fill="#0a0a0a"/>
<circle cx="408.9" cy="297" r="1.85" fill="#0a0a0a"/>
<circle cx="412" cy="299.4" r="1.85" fill="#0a0a0a"/>
<circle cx="405" cy="301.2" r="1.85" fill="#0a0a0a"/>
<circle cx="403.3" cy="294" r="1.85" fill="#0a0a0a"/>
<path d="M406.8,291.6 L410.2,297.4 L403.4,297.4 Z" fill="#e83a34"/>
<line x1="425.40" y1="228.40" x2="439.20" y2="228.40" stroke="#4a5c9e" stroke-width="1.2" />
<circle cx="432.5" cy="228.4" r="1.4" fill="#4a5c9e"/>
<text x="440.80" y="231.50" font-size="8.8" text-anchor="start" font-weight="normal" fill="#1a1a1a" >Vehicle</text>
<line x1="425.40" y1="241.20" x2="439.20" y2="241.20" stroke="#e8403a" stroke-width="1.2" />
<circle cx="432.5" cy="241.2" r="1.4" fill="#e8403a"/>
<text x="440.80" y="244.30" font-size="8.8" text-anchor="start" font-weight="normal" fill="#1a1a1a" >Ebastine 30 mg/kg</text>
<text x="73.80" y="398.60" font-size="12.2" text-anchor="start" font-weight="bold" fill="#111" >E</text>
<text x="152.00" y="403.20" font-size="9.8" text-anchor="middle" font-weight="normal" fill="#1a1a1a" >Control</text>
<text x="202.40" y="403.20" font-size="9.8" text-anchor="middle" font-weight="normal" fill="#1a1a1a" >Ebastine</text>
<line x1="128.70" y1="407.30" x2="173.40" y2="407.30" stroke="#1e1e24" stroke-width="1.6" />
<line x1="177.60" y1="407.30" x2="222.80" y2="407.30" stroke="#1e1e24" stroke-width="1.6" />
<text x="119.50" y="423.40" font-size="9.6" text-anchor="end" font-weight="normal" fill="#1a1a1a" >EZH2</text>
<text x="119.50" y="439.90" font-size="9.6" text-anchor="end" font-weight="normal" fill="#1a1a1a" >H3K27Me3</text>
<text x="119.50" y="455.00" font-size="9.6" text-anchor="end" font-weight="normal" fill="#1a1a1a" >GAPDH</text>
<text x="119.50" y="470.60" font-size="9.6" text-anchor="end" font-weight="normal" fill="#1a1a1a" >Total H3</text>
<rect x="125.2" y="413.3" width="97.4" height="13.5" fill="#eeeae9" stroke="#8e8a8a" stroke-width="1"/>
<rect x="125.2" y="430.0" width="97.4" height="11.8" fill="#eeeae9" stroke="#8e8a8a" stroke-width="1"/>
<rect x="125.2" y="444.8" width="97.4" height="12.6" fill="#eeeae9" stroke="#8e8a8a" stroke-width="1"/>
<rect x="125.2" y="459.8" width="97.4" height="14.2" fill="#eeeae9" stroke="#8e8a8a" stroke-width="1"/>
<rect x="129.5" y="418.10" width="13.7" height="3.60" rx="1.80" fill="#141414" filter="url(#blur)"/>
<rect x="145.6" y="418.75" width="14.1" height="3.10" rx="1.55" fill="#1c1c1c" filter="url(#blur)"/>
<rect x="161.7" y="419.55" width="11.9" height="3.50" rx="1.75" fill="#181818" filter="url(#blur)"/>
<rect x="177.0" y="419.90" width="12.4" height="3.00" rx="1.50" fill="#6e6a6a" filter="url(#blur)"/>
<rect x="192.3" y="419.65" width="11.7" height="2.70" rx="1.35" fill="#8a8686" filter="url(#blur)"/>
<rect x="208.0" y="419.55" width="11.7" height="2.90" rx="1.45" fill="#666262" filter="url(#blur)"/>
<rect x="127.9" y="434.80" width="13.8" height="3.60" rx="1.80" fill="#111" filter="url(#blur)"/>
<rect x="142.6" y="434.70" width="13.0" height="5.00" rx="2.50" fill="#0a0a0a" filter="url(#blur)"/>
<rect x="157.0" y="434.60" width="13.3" height="4.80" rx="2.40" fill="#0c0c0c" filter="url(#blur)"/>
<rect x="174.0" y="435.00" width="9.6" height="3.20" rx="1.60" fill="#5a5656" filter="url(#blur)"/>
<rect x="189.7" y="436.70" width="9.8" height="2.60" rx="1.30" fill="#d4d0d0" filter="url(#blur)"/>
<rect x="206.4" y="434.90" width="10.8" height="3.00" rx="1.50" fill="#b0acac" filter="url(#blur)"/>
<rect x="128.9" y="449.30" width="13.1" height="3.00" rx="1.50" fill="#141414" filter="url(#blur)"/>
<rect x="144.6" y="450.20" width="12.7" height="2.80" rx="1.40" fill="#1a1a1a" filter="url(#blur)"/>
<rect x="159.7" y="449.70" width="13.3" height="2.80" rx="1.40" fill="#1a1a1a" filter="url(#blur)"/>
<rect x="175.4" y="449.70" width="13.3" height="2.80" rx="1.40" fill="#181818" filter="url(#blur)"/>
<rect x="191.7" y="450.45" width="12.7" height="3.10" rx="1.55" fill="#141414" filter="url(#blur)"/>
<rect x="208.0" y="451.20" width="12.0" height="3.20" rx="1.60" fill="#121212" filter="url(#blur)"/>
<rect x="128.3" y="464.10" width="15.3" height="5.60" rx="2.80" fill="#3e3a3a" filter="url(#blur)"/>
<rect x="145.2" y="464.70" width="15.1" height="6.60" rx="3.00" fill="#4a4646" filter="url(#blur)"/>
<rect x="161.7" y="464.40" width="13.7" height="5.80" rx="2.90" fill="#262424" filter="url(#blur)"/>
<rect x="176.6" y="464.80" width="14.1" height="6.40" rx="3.00" fill="#0e0e0e" filter="url(#blur)"/>
<rect x="191.7" y="464.90" width="13.7" height="6.20" rx="3.00" fill="#101010" filter="url(#blur)"/>
<rect x="206.4" y="463.10" width="13.6" height="7.00" rx="3.00" fill="#0a0a0a" filter="url(#blur)"/>
<text x="181.80" y="486.60" font-size="9.3" text-anchor="middle" font-weight="normal" fill="#1a1a1a" >SUM159 xenograft</text>
<line x1="279.00" y1="391.50" x2="279.00" y2="485.40" stroke="#222" stroke-width="1" />
<line x1="277.00" y1="485.40" x2="279.00" y2="485.40" stroke="#222" stroke-width="1" />
<text x="275.80" y="487.70" font-size="6.3" text-anchor="end" font-weight="bold" fill="#1a1a1a" >0.0</text>
<line x1="277.00" y1="454.40" x2="279.00" y2="454.40" stroke="#222" stroke-width="1" />
<text x="275.80" y="456.70" font-size="6.3" text-anchor="end" font-weight="bold" fill="#1a1a1a" >0.5</text>
<line x1="277.00" y1="423.40" x2="279.00" y2="423.40" stroke="#222" stroke-width="1" />
<text x="275.80" y="425.70" font-size="6.3" text-anchor="end" font-weight="bold" fill="#1a1a1a" >1.0</text>
<line x1="277.00" y1="392.40" x2="279.00" y2="392.40" stroke="#222" stroke-width="1" />
<text x="275.80" y="394.70" font-size="6.3" text-anchor="end" font-weight="bold" fill="#1a1a1a" >1.5</text>
<line x1="279.00" y1="485.40" x2="417.70" y2="485.40" stroke="#222" stroke-width="1" />
<line x1="313.50" y1="485.40" x2="313.50" y2="488.20" stroke="#222" stroke-width="1" />
<line x1="383.60" y1="485.40" x2="383.60" y2="488.20" stroke="#222" stroke-width="1" />
<rect x="291.3" y="423.40" width="18.80" height="62.00" fill="#0d0d0d"/>
<line x1="300.70" y1="423.40" x2="300.70" y2="419.06" stroke="#2a2a2a" stroke-width="1.4" />
<line x1="296.50" y1="419.06" x2="304.90" y2="419.06" stroke="#1a1a1a" stroke-width="1.4" />
<rect x="317.5" y="459.36" width="18.80" height="26.04" fill="#ada3a3"/>
<line x1="326.90" y1="461.36" x2="326.90" y2="456.26" stroke="#2a2a2a" stroke-width="1.4" />
<line x1="322.70" y1="456.26" x2="331.10" y2="456.26" stroke="#1a1a1a" stroke-width="1.4" />
<rect x="361.1" y="423.40" width="18.80" height="62.00" fill="#0d0d0d"/>
<line x1="370.50" y1="423.40" x2="370.50" y2="414.41" stroke="#2a2a2a" stroke-width="1.4" />
<line x1="366.30" y1="414.41" x2="374.70" y2="414.41" stroke="#1a1a1a" stroke-width="1.4" />
<rect x="387.5" y="470.52" width="18.40" height="14.88" fill="#ada3a3"/>
<line x1="396.70" y1="472.52" x2="396.70" y2="464.32" stroke="#2a2a2a" stroke-width="1.4" />
<line x1="392.50" y1="464.32" x2="400.90" y2="464.32" stroke="#1a1a1a" stroke-width="1.4" />
<polygon points="324.90,440.90 325.56,442.49 327.28,442.63 325.97,443.75 326.37,445.42 324.90,444.52 323.43,445.42 323.83,443.75 322.52,442.63 324.24,442.49" fill="#111"/>
<polygon points="329.80,440.90 330.46,442.49 332.18,442.63 330.87,443.75 331.27,445.42 329.80,444.52 328.33,445.42 328.73,443.75 327.42,442.63 329.14,442.49" fill="#111"/>
<polygon points="396.20,447.80 396.86,449.39 398.58,449.53 397.27,450.65 397.67,452.32 396.20,451.43 394.73,452.32 395.13,450.65 393.82,449.53 395.54,449.39" fill="#111"/>
<text x="313.50" y="498.60" font-size="6.6" text-anchor="middle" font-weight="bold" fill="#1a1a1a" >EZH2</text>
<text x="383.60" y="500.20" font-size="6.8" text-anchor="middle" font-weight="bold" fill="#1a1a1a" >H3K27Me3</text>
<text transform="translate(256.9,439.2) rotate(-90)" font-size="7.5" font-weight="bold" text-anchor="middle" fill="#1a1a1a">Relative expression to GAPDH</text>
<rect x="387.3" y="378.5" width="11.7" height="5.9" fill="#0d0d0d"/>
<rect x="387.3" y="389.2" width="11.7" height="6.1" fill="#ada3a3"/>
<text x="404.00" y="383.60" font-size="7.5" text-anchor="start" font-weight="normal" fill="#1a1a1a" >Control</text>
<text x="404.00" y="394.60" font-size="7.6" text-anchor="start" font-weight="normal" fill="#1a1a1a" >Ebastine</text>
</svg>
</body></html>
